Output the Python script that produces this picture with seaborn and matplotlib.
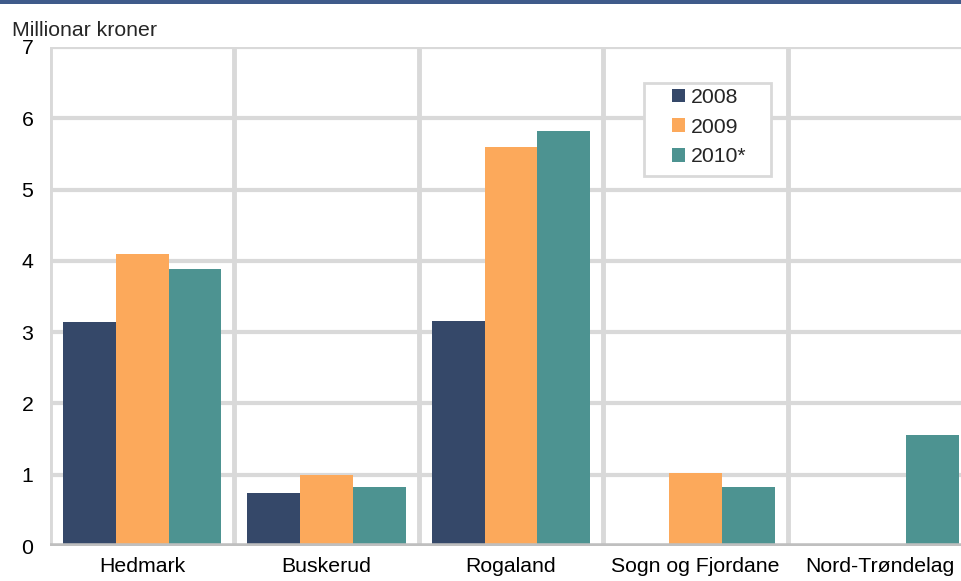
import numpy as np
import pandas as pd
import matplotlib
matplotlib.use("Agg")
import matplotlib.pyplot as plt
import seaborn as sns
from matplotlib.patches import Rectangle

# Data
regions = ["Hedmark", "Buskerud", "Rogaland", "Sogn og Fjordane", "Nord-Trøndelag"]
years = ["2008", "2009", "2010*"]
v2008 = [3.14, 0.74, 3.16, np.nan, np.nan]
v2009 = [4.10, 1.00, 5.60, 1.02, np.nan]
v2010 = [3.88, 0.83, 5.82, 0.83, 1.56]
colors = ["#354869", "#FCA95B", "#4D9391"]

df = pd.DataFrame({
    "region": regions * 3,
    "year": [y for y in years for _ in regions],
    "value": v2008 + v2009 + v2010,
})

sns.set_style("white")
plt.rcParams["font.family"] = ["Liberation Sans", "DejaVu Sans"]
fs = 15.3
W, H = 962, 581

fig = plt.figure(figsize=(W / 100, H / 100), dpi=100)
# axes area in figure fractions (right side runs past the image edge like the original)
ax = fig.add_axes([50 / W, (H - 546) / H, 922 / W, (546 - 47) / H])

sns.barplot(data=df, x="region", y="value", hue="year", order=regions,
            hue_order=years, palette=colors, width=0.86, gap=0,
            saturation=1, linewidth=0, ax=ax, zorder=3)

ax.set_ylim(0, 7)
ax.set_xlim(-0.5, 4.5)
ax.set_yticks(range(0, 8))
ax.set_xlabel("")
ax.set_ylabel("")

grid_c = "#d9d9d9"
for y in range(1, 8):
    ax.axhline(y, color=grid_c, lw=3, zorder=1)
for x in np.arange(-0.5, 5.0, 1.0):
    ax.axvline(x, color=grid_c, lw=3.5, zorder=1)
ax.axhline(0, color="#bfbfbf", lw=4, zorder=4)

for s in ax.spines.values():
    s.set_visible(False)
ax.tick_params(axis="both", length=0, labelsize=fs, colors="black")
ax.tick_params(axis="y", pad=12)
ax.tick_params(axis="x", pad=8)

fig.text(12 / W, 1 - 30 / H, "Millionar kroner", fontsize=fs, va="center", ha="left")

# top rule
fig.add_artist(Rectangle((0, 1 - 4 / H), 1, 4 / H, transform=fig.transFigure,
                         color="#3F5B8A", lw=0))

# legend box drawn separately so padding can differ horizontally/vertically
fig.add_artist(Rectangle((644 / W, 1 - 176 / H), (771 - 644) / W, (176 - 83) / H,
                         transform=fig.transFigure, facecolor="white",
                         edgecolor=grid_c, lw=2, zorder=5))
leg = ax.legend(loc="upper left", bbox_to_anchor=(672 / W, 1 - 88 / H),
                bbox_transform=fig.transFigure, frameon=False, fontsize=fs,
                handlelength=0.63, handleheight=0.63, handletextpad=0.25,
                borderpad=0, labelspacing=0.5, borderaxespad=0)
leg.set_zorder(6)
leg.remove()
fig.add_artist(leg)

fig.savefig("out.png", dpi=100)
